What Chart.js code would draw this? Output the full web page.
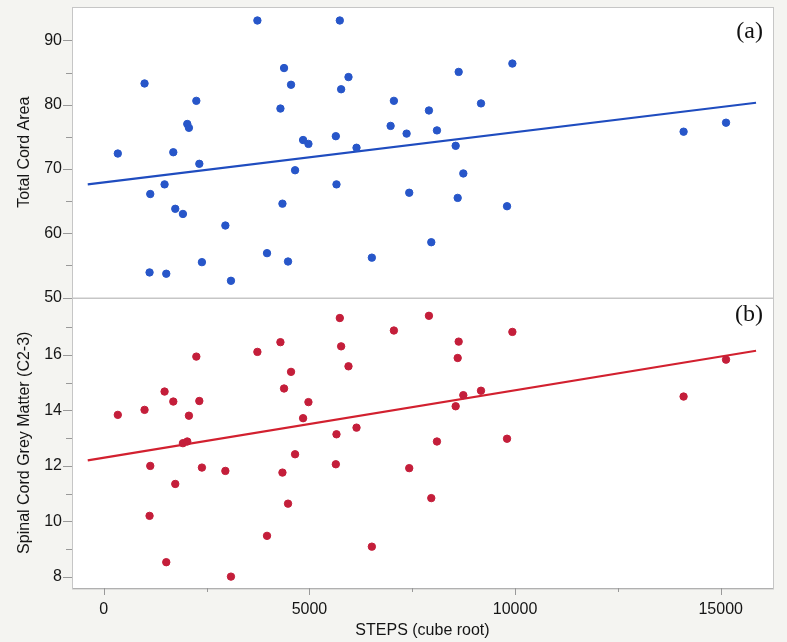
<!DOCTYPE html>
<html>
<head>
<meta charset="utf-8">
<script src="https://cdn.jsdelivr.net/npm/chart.js@4"></script>
<style>
  body { margin: 0; background: #f4f4f1; }
  #wrap { width: 787px; height: 642px; }
</style>
</head>
<body>
<div id="wrap"><canvas id="stepsChart" width="787" height="642"></canvas></div>
<script>
// steps (cube root), one entry per subject
const steps = [341, 991, 1113, 1130, 1478, 1519, 1690, 1738, 1924, 2030, 2070, 2250, 2323, 2386, 2956, 3092,
  3735, 3969, 4295, 4344, 4383, 4480, 4553, 4651, 4846, 4976, 5642, 5658, 5739, 5771, 5950, 6145, 6518,
  6974, 7054, 7363, 7427, 7906, 7963, 8101, 8556, 8605, 8629, 8742, 9172, 9805, 9935, 14098, 15130];

// (a) total cord area
const cordArea = [72.4, 83.3, 53.9, 66.1, 67.6, 53.7, 72.6, 63.8, 63.0, 77.0, 76.4, 80.6, 70.8, 55.5, 61.2, 52.6,
  93.1, 56.9, 79.4, 64.6, 85.7, 55.6, 83.1, 69.8, 74.5, 73.9, 75.1, 67.6, 93.1, 82.4, 84.3, 73.3, 56.2,
  76.7, 80.6, 75.5, 66.3, 79.1, 58.6, 76.0, 73.6, 65.5, 85.1, 69.3, 80.2, 64.2, 86.4, 75.8, 77.2];

// (b) spinal cord grey matter C2-3 (two subjects not shown)
const greyMatter = [13.84, 14.02, 10.2, 12.0, 14.68, 8.53, 14.32, 11.35, 12.82, 12.88, 13.81, 15.94, 14.34, 11.94, 11.82, 8.01,
  16.11, 9.48, 16.46, 11.76, 14.79, 10.64, 15.39, 12.42, 13.72, 14.30, 12.06, 13.14, 17.33, 16.31, 15.59, 13.38, 9.09,
  null, 16.88, null, 11.92, 17.41, 10.84, 12.88, 14.15, 15.89, 16.48, 14.55, 14.71, 12.98, 16.83, 14.50, 15.83];

// fitted lines (end points)
const fitSteps = [-390, 15860];
const cordFit = [67.6, 80.3];
const greyFit = [12.2, 16.15];

// axis ticks
const xTicks = [0, 5000, 10000, 15000];
const xMinor = [2500, 7500, 12500];
const cordTicks = [50, 60, 70, 80, 90];
const cordMinor = [55, 65, 75, 85];
const greyTicks = [8, 10, 12, 14, 16];
const greyMinor = [9, 11, 13, 15, 17];

const toPoints = (xs, ys) => xs.map((x, i) => ({ x: x, y: ys[i] })).filter(p => p.y !== null);
const fixTicks = vals => scale => { scale.ticks = vals.map(v => ({ value: v })); };

const tickFont = { family: '"Liberation Sans", Arial, sans-serif', size: 16 };
const textColor = '#151515';

// frames, small tick marks and the (a)/(b) tags
const panelDecor = {
    id: 'panelDecor',
    beforeDraw(chart) {
        const { ctx, chartArea: a } = chart;
        ctx.save();
        ctx.fillStyle = '#ffffff';
        ctx.fillRect(a.left, a.top, a.right - a.left, a.bottom - a.top);
        ctx.restore();
    },
    afterDraw(chart) {
        const { ctx, chartArea: a, scales } = chart;
        ctx.save();
        ctx.lineWidth = 1;
        ctx.strokeStyle = '#c6c6c6';
        [scales.yTop, scales.yBottom].forEach(s => {
            ctx.strokeRect(a.left + 0.5, Math.round(s.top) + 0.5, a.right - a.left, s.bottom - s.top);
        });

        ctx.strokeStyle = '#999';
        const yMarks = (s, vals, len) => vals.forEach(v => {
            const p = Math.round(s.getPixelForValue(v)) + 0.5;
            ctx.beginPath(); ctx.moveTo(s.right - len, p); ctx.lineTo(s.right, p); ctx.stroke();
        });
        const xMarks = (s, vals, len) => vals.forEach(v => {
            const p = Math.round(s.getPixelForValue(v)) + 0.5;
            ctx.beginPath(); ctx.moveTo(p, s.top); ctx.lineTo(p, s.top + len); ctx.stroke();
        });
        yMarks(scales.yTop, cordTicks, 9);
        yMarks(scales.yTop, cordMinor, 6);
        yMarks(scales.yBottom, greyTicks, 9);
        yMarks(scales.yBottom, greyMinor, 6);
        xMarks(scales.x, xTicks, 7);
        xMarks(scales.x, xMinor, 4);

        ctx.fillStyle = '#111';
        ctx.font = '24px "Liberation Serif", "Times New Roman", serif';
        ctx.textAlign = 'right';
        ctx.fillText('(a)', a.right - 10, scales.yTop.top + 31);
        ctx.fillText('(b)', a.right - 10, scales.yBottom.top + 23);
        ctx.restore();
    }
};

const yFit = scale => {
    scale.width = 72;
    scale.paddingTop = 0;
    scale.paddingBottom = 0;
};

const ctx = document.getElementById('stepsChart').getContext('2d');

new Chart(ctx, {
    type: 'scatter',
    data: {
        datasets: [
            {
                label: 'Total Cord Area',
                data: toPoints(steps, cordArea),
                yAxisID: 'yTop',
                backgroundColor: '#2756c9',
                borderColor: '#2756c9',
                pointRadius: 3.7
            },
            {
                label: 'Total Cord Area fit',
                data: toPoints(fitSteps, cordFit),
                yAxisID: 'yTop',
                showLine: true,
                borderColor: '#1f4cbf',
                borderWidth: 2.2,
                pointRadius: 0
            },
            {
                label: 'Spinal Cord Grey Matter',
                data: toPoints(steps, greyMatter),
                yAxisID: 'yBottom',
                backgroundColor: '#c41e3a',
                borderColor: '#c41e3a',
                pointRadius: 3.7
            },
            {
                label: 'Spinal Cord Grey Matter fit',
                data: toPoints(fitSteps, greyFit),
                yAxisID: 'yBottom',
                showLine: true,
                borderColor: '#d2202f',
                borderWidth: 2.2,
                pointRadius: 0
            }
        ]
    },
    options: {
        responsive: false,
        animation: false,
        layout: { padding: { top: 7, right: 14, left: 0, bottom: 0 } },
        plugins: {
            legend: { display: false },
            tooltip: { enabled: false }
        },
        scales: {
            x: {
                type: 'linear',
                min: -773,
                max: 16272,
                afterBuildTicks: fixTicks(xTicks),
                afterFit: s => { s.height = 54; s.paddingLeft = 0; s.paddingRight = 0; },
                grid: { display: true, drawOnChartArea: false, drawTicks: false },
                border: { display: true, color: '#999' },
                ticks: { font: tickFont, color: textColor, padding: 12, maxRotation: 0, callback: v => String(v) },
                title: {
                    display: true,
                    text: 'STEPS (cube root)',
                    font: tickFont,
                    color: textColor,
                    padding: { top: 0, bottom: 2 }
                }
            },
            yBottom: {
                type: 'linear',
                position: 'left',
                stack: 'panels',
                stackWeight: 1,
                min: 7.6,
                max: 18.07,
                afterBuildTicks: fixTicks(greyTicks),
                afterFit: yFit,
                grid: { display: true, drawOnChartArea: false, drawTicks: false },
                border: { display: true, color: '#999' },
                ticks: { font: tickFont, color: textColor, padding: 10, callback: v => String(v) },
                title: {
                    display: true,
                    text: 'Spinal Cord Grey Matter (C2-3)',
                    font: tickFont,
                    color: textColor,
                    padding: { top: 15, bottom: 0 }
                }
            },
            yTop: {
                type: 'linear',
                position: 'left',
                stack: 'panels',
                stackWeight: 1,
                min: 50,
                max: 95.2,
                afterBuildTicks: fixTicks(cordTicks),
                afterFit: yFit,
                grid: { display: true, drawOnChartArea: false, drawTicks: false },
                border: { display: true, color: '#999' },
                ticks: { font: tickFont, color: textColor, padding: 10, callback: v => String(v) },
                title: {
                    display: true,
                    text: 'Total Cord Area',
                    font: tickFont,
                    color: textColor,
                    padding: { top: 15, bottom: 0 }
                }
            }
        }
    },
    plugins: [panelDecor]
});
</script>
</body>
</html>
